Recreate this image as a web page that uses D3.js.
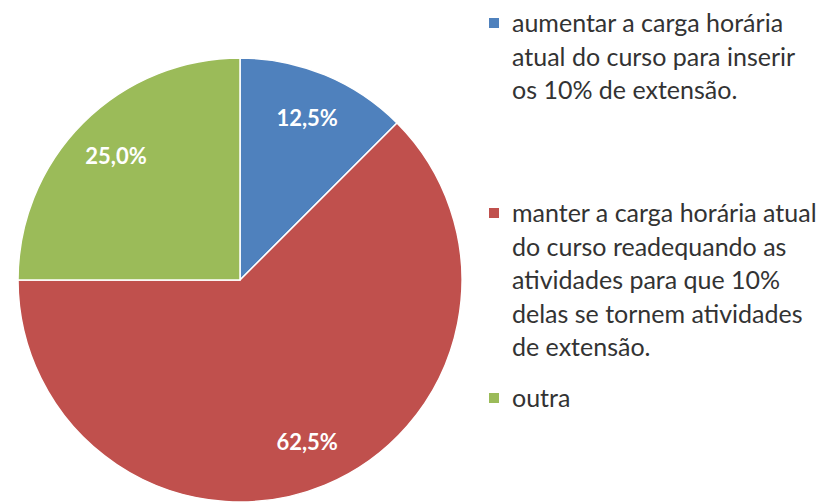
<!DOCTYPE html>
<html><head><meta charset="utf-8">
<script src="https://cdn.jsdelivr.net/npm/d3@7"></script>
<style>html,body{margin:0;padding:0;background:#fff;}</style>
</head><body>
<svg id="chart" width="830" height="504"></svg>
<script>
const categories = [
  "aumentar a carga horária atual do curso para inserir os 10% de extensão.",
  "manter a carga horária atual do curso readequando as atividades para que 10% delas se tornem atividades de extensão.",
  "outra"
];
const values = [12.5, 62.5, 25.0];
const valueLabels = ["12,5%", "62,5%", "25,0%"];
const legendLines = [
  ["aumentar a carga horária", "atual do curso para inserir", "os 10% de extensão."],
  ["manter a carga horária atual", "do curso readequando as", "atividades para que 10%", "delas se tornem atividades", "de extensão."],
  ["outra"]
];
const colors = ["#4F81BD", "#C0504D", "#9BBB59"];

const svg = d3.select("#chart");
const cx = 240, cy = 280, R = 222;
const font = "Lato, 'Open Sans', sans-serif";

const pie = d3.pie().sort(null).value(d => d)(values);
const arc = d3.arc().innerRadius(0).outerRadius(R);
const labelArc = d3.arc().innerRadius(R * 0.79).outerRadius(R * 0.79);
const color = d3.scaleOrdinal().domain(d3.range(values.length)).range(colors);

const g = svg.append("g").attr("transform", `translate(${cx},${cy})`);
g.selectAll("path").data(pie).join("path")
  .attr("d", arc)
  .attr("fill", (d, i) => color(i))
  .attr("stroke", "#fff").attr("stroke-width", 1.5);

g.selectAll("text").data(pie).join("text")
  .attr("transform", d => `translate(${labelArc.centroid(d)})`)
  .attr("text-anchor", "middle").attr("dy", "0.35em")
  .attr("font-family", font).attr("font-weight", "bold").attr("font-size", 22)
  .attr("fill", "#fff")
  .text((d, i) => valueLabels[i]);

// legend
const legendX = 489, textX = 512, lineH = 33.5;
const firstBaselines = [32, 222, 407];
categories.forEach((c, i) => {
  const lg = svg.append("g");
  lg.append("rect").attr("x", legendX).attr("y", firstBaselines[i] - 14)
    .attr("width", 10).attr("height", 10).attr("fill", color(i));
  lg.append("text").attr("font-family", font).attr("font-size", 25).attr("fill", "#333")
    .selectAll("tspan").data(legendLines[i]).join("tspan")
    .attr("x", textX).attr("y", (d, j) => firstBaselines[i] + j * lineH)
    .text(d => d);
});
</script>
</body></html>
